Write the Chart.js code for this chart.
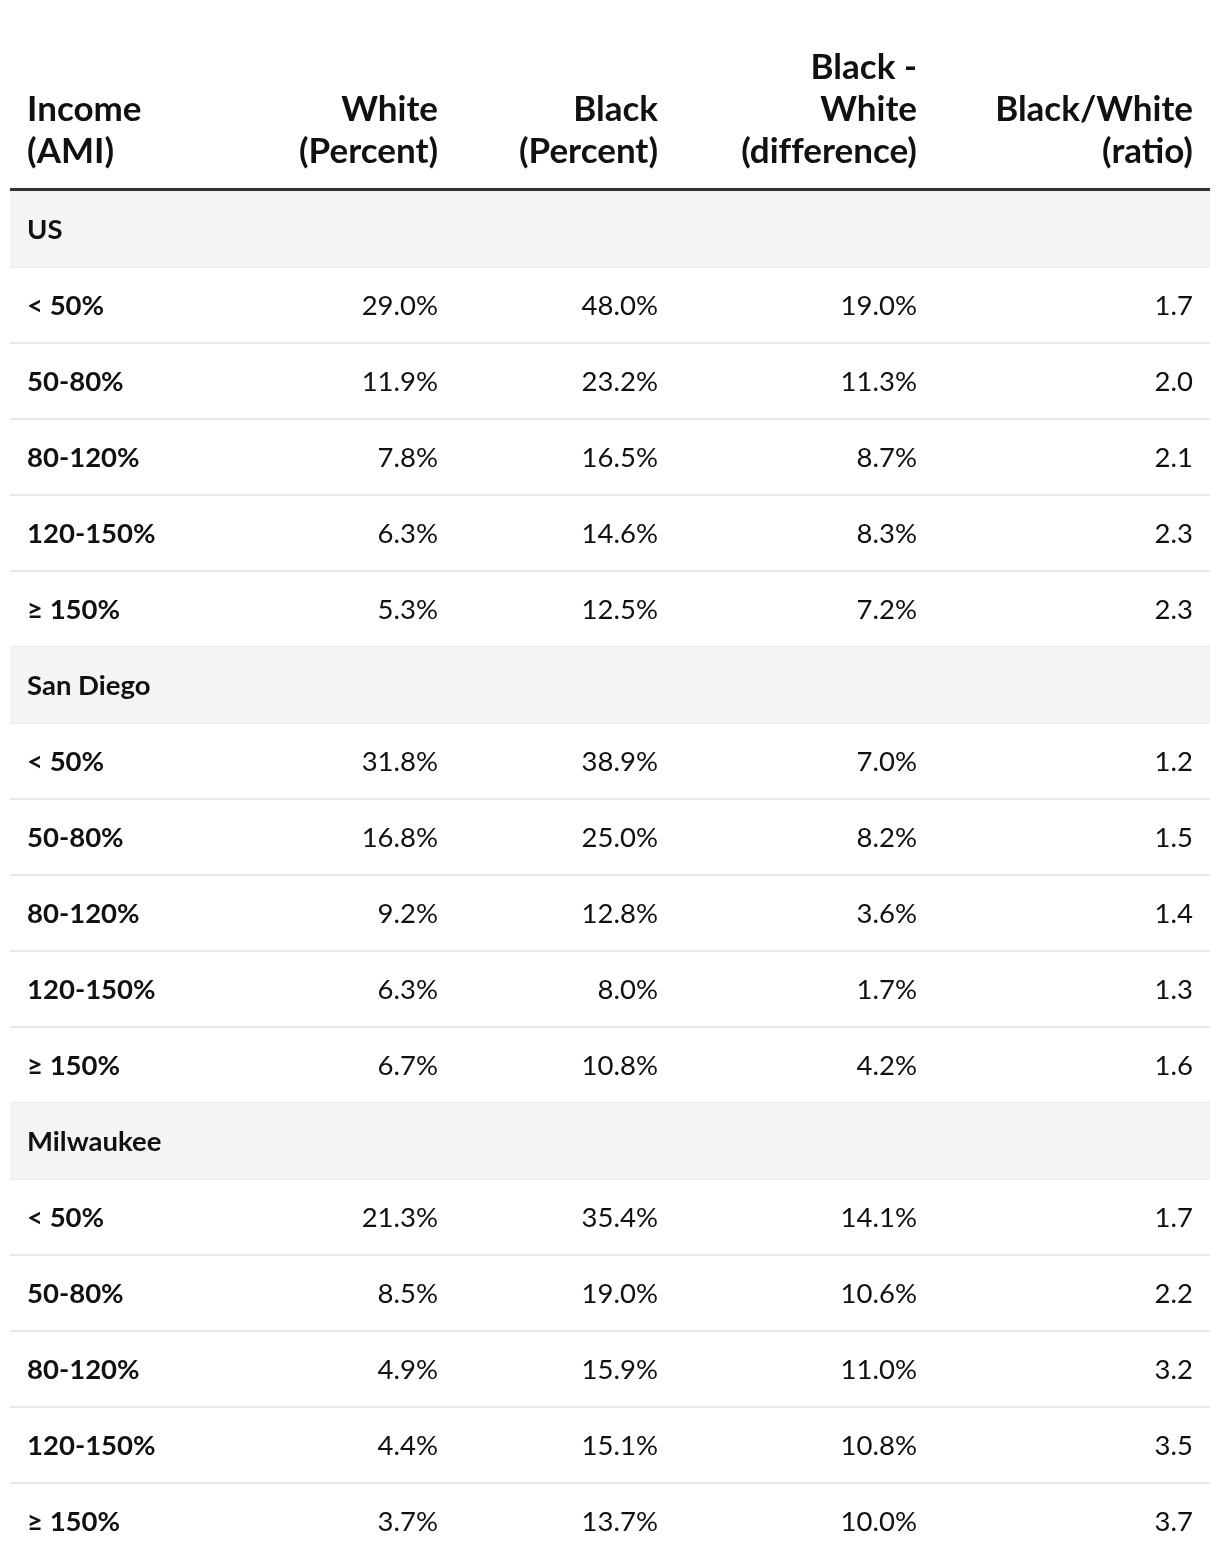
<!DOCTYPE html>
<html>
<head>
<meta charset="utf-8">
<title>Income (AMI) - White / Black</title>
<script src="https://cdn.jsdelivr.net/npm/chart.js@4.4.1/dist/chart.umd.min.js"></script>
<style>
    html, body { margin: 0; padding: 0; background: #ffffff; }
    #wrap { width: 1220px; height: 1568px; position: relative; }
</style>
</head>
<body>
<div id="wrap"><canvas id="taulaIngressos"></canvas></div>
<script>
// dades de la taula
const grups = ['US', 'San Diego', 'Milwaukee'];
const franges = ['< 50%', '50-80%', '80-120%', '120-150%', '\u2265 150%'];

const white = [29.0, 11.9, 7.8, 6.3, 5.3,   31.8, 16.8, 9.2, 6.3, 6.7,   21.3, 8.5, 4.9, 4.4, 3.7];
const black = [48.0, 23.2, 16.5, 14.6, 12.5,   38.9, 25.0, 12.8, 8.0, 10.8,   35.4, 19.0, 15.9, 15.1, 13.7];
const diff  = [19.0, 11.3, 8.7, 8.3, 7.2,   7.0, 8.2, 3.6, 1.7, 4.2,   14.1, 10.6, 11.0, 10.8, 10.0];
const ratio = [1.7, 2.0, 2.1, 2.3, 2.3,   1.2, 1.5, 1.4, 1.3, 1.6,   1.7, 2.2, 3.2, 3.5, 3.7];

// \u200C evita les lligadures "ti" i "ff" de Lato
const capcaleres = [
    ['Income', '(AMI)'],
    ['White', '(Percent)'],
    ['Black', '(Percent)'],
    ['Black -', 'White', '(dif\u200Cference)'],
    ['Black/White', '(ra\u200Ctio)']
];

// posicio de cada columna sobre l'eix x (0..1)
const colX = [0.0142, 0.3567, 0.54, 0.7558, 0.9858];
const colAlign = ['left', 'right', 'right', 'right', 'right'];

document.addEventListener('DOMContentLoaded', function () {
    // muntem les files: capçalera de grup + 5 franges
    let etiquetes = [];
    let files = [];
    let fons = [];
    grups.forEach((g, gi) => {
        etiquetes.push(g);
        files.push({ grup: true, cel: [g] });
        fons.push([0, 1]);
        franges.forEach((f, fi) => {
            let k = gi * franges.length + fi;
            etiquetes.push(f);
            files.push({
                grup: false,
                cel: [
                    f,
                    white[k].toFixed(1) + '%',
                    black[k].toFixed(1) + '%',
                    diff[k].toFixed(1) + '%',
                    ratio[k].toFixed(1)
                ]
            });
            fons.push(null);
        });
    });

    const textTaula = {
        id: 'textTaula',
        afterDraw(chart) {
            const ctx = chart.ctx;
            const xs = chart.scales.x;
            const ys = chart.scales.y;
            const area = chart.chartArea;
            ctx.save();

            // linia gruixuda sota la capçalera
            ctx.fillStyle = '#333333';
            ctx.fillRect(area.left, area.top - 3, area.right - area.left, 3);

            // capçalera
            ctx.fillStyle = '#111111';
            ctx.font = 'bold 35px Lato';
            ctx.textBaseline = 'alphabetic';
            capcaleres.forEach((linies, c) => {
                ctx.textAlign = colAlign[c];
                let x = xs.getPixelForValue(colX[c]);
                let n = linies.length;
                linies.forEach((t, li) => {
                    let y = area.top - 28 - (n - 1 - li) * 42;
                    ctx.fillText(t, x, y);
                });
            });

            // cel·les
            files.forEach((fila, r) => {
                let y = ys.getPixelForValue(r) + 10;
                fila.cel.forEach((t, c) => {
                    ctx.font = (c === 0 ? 'bold ' : '') + '27.5px Lato';
                    ctx.textAlign = colAlign[c];
                    ctx.fillText(t, xs.getPixelForValue(colX[c]), y);
                });
            });
            ctx.restore();
        }
    };

    let ctx = document.getElementById('taulaIngressos').getContext('2d');
    let taula = new Chart(ctx, {
        type: 'bar',
        data: {
            labels: etiquetes,
            datasets: [{
                data: fons,
                backgroundColor: '#f3f4f3',
                borderWidth: 0,
                barPercentage: 1,
                categoryPercentage: 1
            }]
        },
        options: {
            indexAxis: 'y',
            responsive: true,
            maintainAspectRatio: false,
            animation: false,
            events: [],
            layout: { padding: { left: 10, right: 10, top: 191, bottom: 9 } },
            plugins: {
                legend: { display: false },
                tooltip: { enabled: false }
            },
            scales: {
                x: { type: 'linear', min: 0, max: 1, display: false },
                y: {
                    type: 'category',
                    z: 1,
                    ticks: { display: false },
                    border: { display: false },
                    grid: {
                        offset: true,
                        drawTicks: false,
                        lineWidth: 2,
                        color: function (c) {
                            // sense linia al final de la taula
                            return c.index === undefined ? 'rgba(0,0,0,0)' : '#e9e9e9';
                        }
                    },
                    afterFit: function (s) { s.width = 0; }
                }
            }
        },
        plugins: [textTaula]
    });
});
</script>
</body>
</html>
